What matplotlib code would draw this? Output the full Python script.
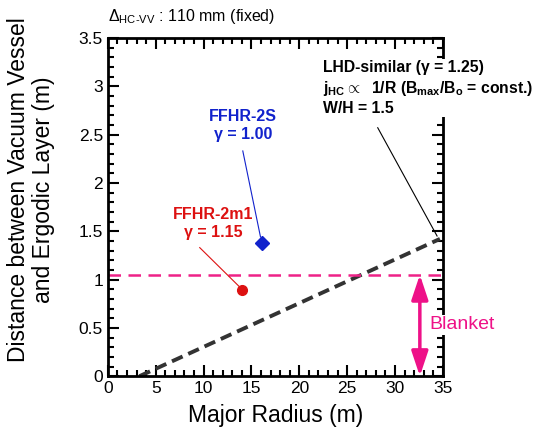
import matplotlib
matplotlib.use('Agg')
import matplotlib.pyplot as plt
from matplotlib.ticker import MultipleLocator

plt.rcParams['font.family'] = ['Liberation Sans', 'DejaVu Sans']
plt.rcParams['mathtext.fontset'] = 'custom'
plt.rcParams['mathtext.rm'] = 'Liberation Sans'
plt.rcParams['mathtext.bf'] = 'Liberation Sans:bold'

# data
lhd_r = [3.3, 34.7]
lhd_d = [0.0, 1.42]
blanket_level = 1.05
ffhr2m1 = (14.0, 0.89)
ffhr2s = (16.1, 1.38)
arrow_r = 32.6

fig = plt.figure(figsize=(5.42, 4.40), dpi=100)
ax = fig.add_axes([0.199, 0.145, 0.618, 0.769])

ax.plot(lhd_r, lhd_d, color='#333333', lw=2.8, ls=(0, (3, 1.6)))
ax.axhline(blanket_level, color='#ee2288', lw=1.8, ls=(0, (5, 3)))
ax.plot(*ffhr2m1, 'o', color='#dd1111', ms=7)
ax.plot(*ffhr2s, 'D', color='#1122cc', ms=7)

ax.annotate('', xy=(arrow_r, 0), xytext=(arrow_r, blanket_level),
            arrowprops=dict(arrowstyle='<|-|>,head_width=0.5,head_length=1.5',
                            color='#ee1188', lw=2.5, shrinkA=0, shrinkB=0))
ax.text(33.6, 0.53, 'Blanket', color='#ee1188', fontsize=14, va='center', ha='left',
        clip_on=False, zorder=5, bbox=dict(fc='white', ec='none', pad=1))

# labels with leader lines
ax.text(11.0, 1.58, 'FFHR-2m1\nγ = 1.15', color='#dd1111', fontsize=11.5,
        fontweight='bold', ha='center', va='center', linespacing=1.25)
ax.plot([9.6, 13.7], [1.33, 0.93], color='#dd1111', lw=0.8)
ax.text(14.1, 2.59, 'FFHR-2S\nγ = 1.00', color='#1122cc', fontsize=11.5,
        fontweight='bold', ha='center', va='center', linespacing=1.25)
ax.plot([14.1, 15.95], [2.33, 1.44], color='#1122cc', lw=0.8)
ax.text(22.5, 2.98, 'LHD-similar (γ = 1.25)\n'
        'j$_{\\bf HC}$$\\propto$  1/R (B$_{\\bf max}$/B$_{\\bf o}$ = const.)\nW/H = 1.5',
        fontsize=11.3, fontweight='bold', ha='left', va='center', linespacing=1.25,
        clip_on=False, zorder=5, bbox=dict(fc='white', ec='none', pad=1))
ax.plot([28.2, 34.4], [2.57, 1.45], color='black', lw=0.8)

ax.set_xlim(0, 35)
ax.set_ylim(0, 3.5)
ax.xaxis.set_major_locator(MultipleLocator(5))
ax.xaxis.set_minor_locator(MultipleLocator(1))
ax.yaxis.set_minor_locator(MultipleLocator(0.1))
ax.set_yticks([0, 0.5, 1, 1.5, 2, 2.5, 3, 3.5])
ax.set_yticklabels(['0', '0.5', '1', '1.5', '2', '2.5', '3', '3.5'])
ax.tick_params(which='both', direction='in', top=True, right=True, labelsize=12.5, width=1.5)
ax.tick_params(which='major', length=8)
ax.tick_params(which='minor', length=4)
for s in ax.spines.values():
    s.set_linewidth(2)

ax.set_xlabel('Major Radius (m)', fontsize=16.5, labelpad=6)
fig.text(31 / 542, 1 - 190 / 440, 'Distance between Vacuum Vessel\nand Ergodic Layer (m)',
         fontsize=16.5, rotation=90, ha='center', va='center', linespacing=1.1)
fig.text(0.2, 0.962, '$\\Delta_{\\rm HC\\text{-}VV}$ : 110 mm (fixed)', fontsize=11.5, ha='left', va='center')

fig.savefig('out.png', dpi=100)
